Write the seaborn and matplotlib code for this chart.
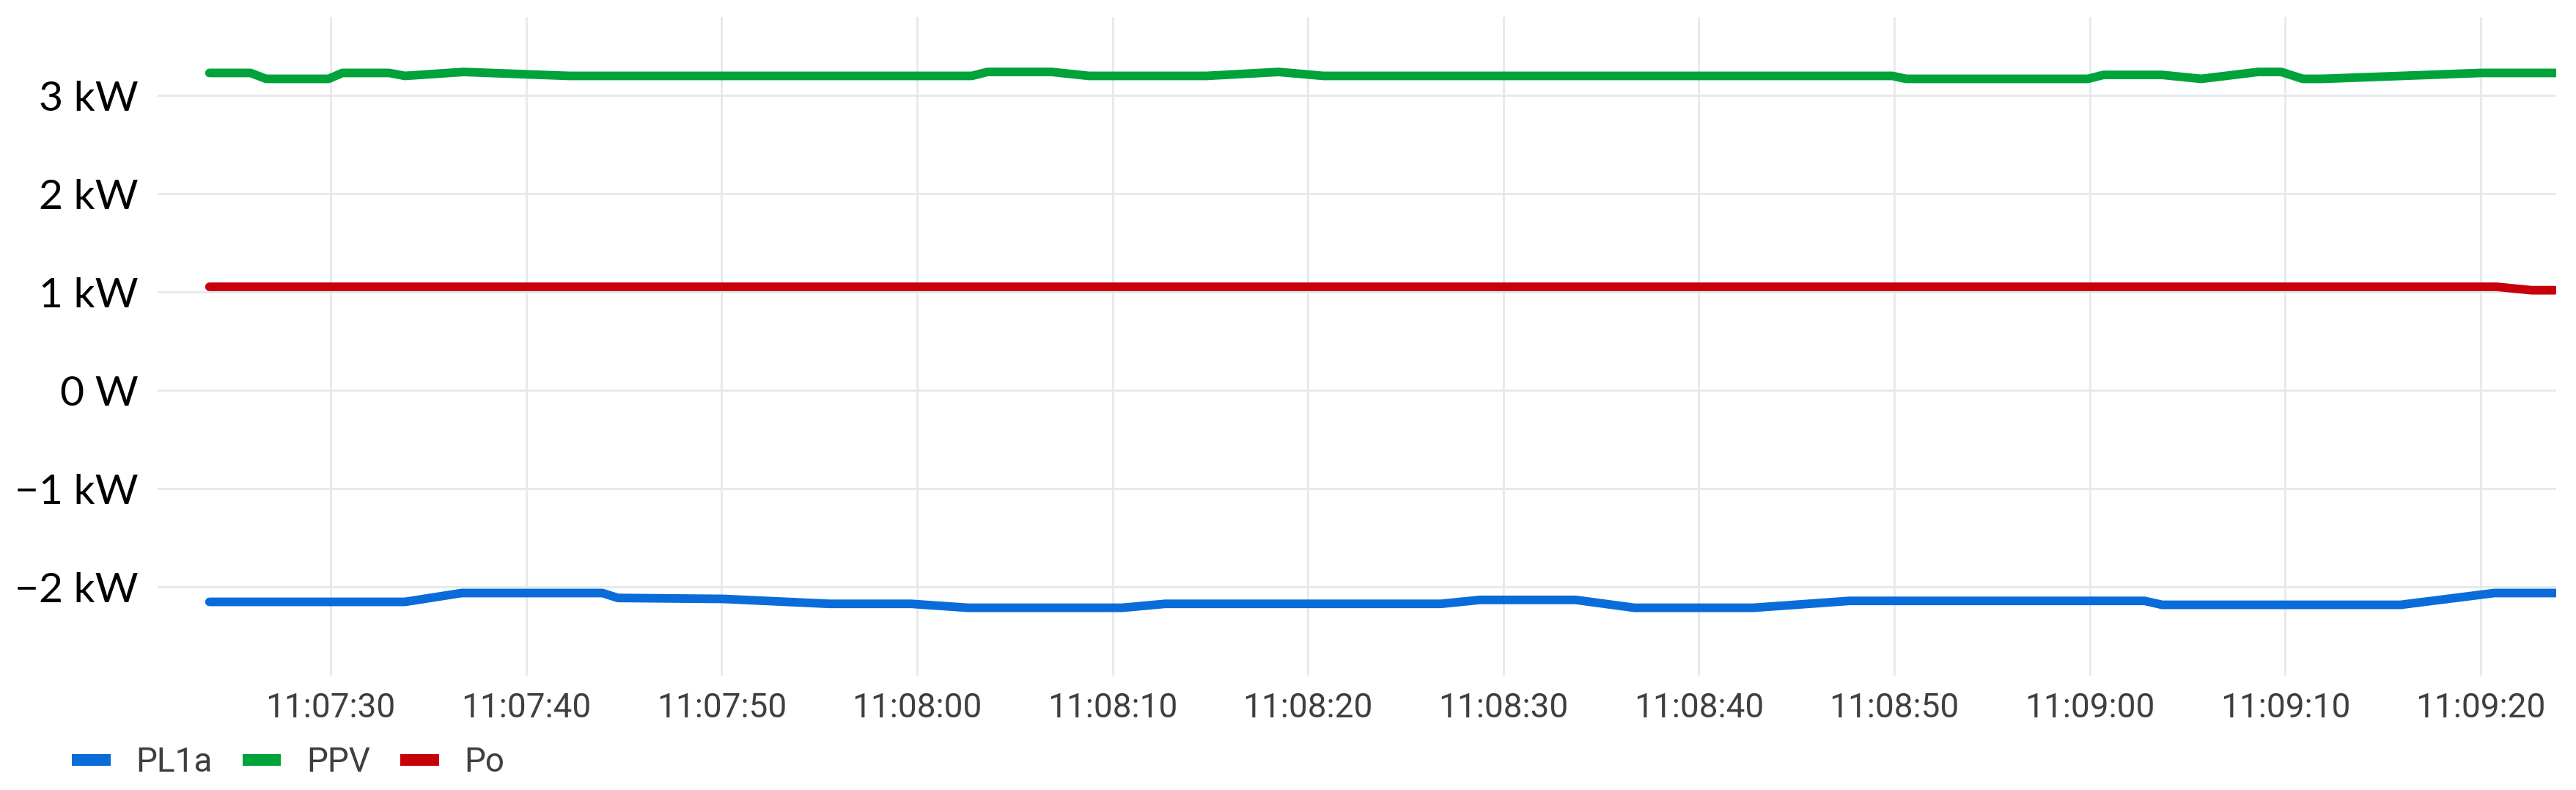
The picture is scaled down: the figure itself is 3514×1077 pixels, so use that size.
import matplotlib

matplotlib.use("Agg")
import matplotlib.dates as mdates
import matplotlib.pyplot as plt
import pandas as pd
import seaborn as sns
from matplotlib.ticker import FuncFormatter

# --- data (time of day, power in W) ----------------------------------------
pl1a_time = [
    "11:07:23.8", "11:07:33.8", "11:07:36.7", "11:07:43.9", "11:07:44.7",
    "11:07:50.1", "11:07:55.5", "11:07:59.7", "11:08:02.6", "11:08:10.5",
    "11:08:12.7", "11:08:26.8", "11:08:28.8", "11:08:33.7", "11:08:36.7",
    "11:08:42.8", "11:08:47.7", "11:09:02.8", "11:09:03.7", "11:09:15.9",
    "11:09:20.7", "11:09:23.8",
]
pl1a_w = [
    -2150, -2150, -2060, -2060, -2110,
    -2120, -2170, -2170, -2210, -2210,
    -2170, -2170, -2130, -2130, -2210,
    -2210, -2140, -2140, -2180, -2180,
    -2060, -2060,
]

ppv_time = [
    "11:07:23.8", "11:07:25.9", "11:07:26.7", "11:07:29.9", "11:07:30.6",
    "11:07:33.0", "11:07:33.8", "11:07:36.8", "11:07:42.2", "11:08:02.8",
    "11:08:03.6", "11:08:06.9", "11:08:08.8", "11:08:14.8", "11:08:18.5",
    "11:08:20.8", "11:08:49.9", "11:08:50.6", "11:08:59.9", "11:09:00.7",
    "11:09:03.7", "11:09:05.7", "11:09:08.6", "11:09:09.8", "11:09:10.9",
    "11:09:11.9", "11:09:20.0", "11:09:23.8",
]
ppv_w = [
    3230, 3230, 3170, 3170, 3230,
    3230, 3200, 3240, 3200, 3200,
    3240, 3240, 3200, 3200, 3240,
    3200, 3200, 3170, 3170, 3210,
    3210, 3170, 3240, 3240, 3170,
    3170, 3230, 3230,
]

po_time = ["11:07:23.8", "11:09:20.8", "11:09:22.6", "11:09:23.8"]
po_w = [1055, 1055, 1020, 1020]

SERIES = ["PL1a", "PPV", "Po"]
COLOURS = {"PL1a": "#0a6cd8", "PPV": "#00a23a", "Po": "#c8000a"}
BASE_DATE = "2000-01-01 "


def _frame(name, times, values):
    return pd.DataFrame(
        {
            "time": pd.to_datetime([BASE_DATE + t for t in times]),
            "power": values,
            "series": name,
        }
    )


df = pd.concat(
    [
        _frame("PL1a", pl1a_time, pl1a_w),
        _frame("PPV", ppv_time, ppv_w),
        _frame("Po", po_time, po_w),
    ],
    ignore_index=True,
)


def _fmt_power(val, _pos):
    """0 -> '0 W', otherwise kW with a real minus sign."""
    if abs(val) < 1e-6:
        return "0 W"
    kw = val / 1000
    txt = f"{abs(kw):g} kW"
    return ("\u2212" + txt) if kw < 0 else txt


sns.set_theme(style="white")
plt.rcParams["font.family"] = ["Roboto", "DejaVu Sans"]

fig = plt.figure(figsize=(35.14, 10.77), dpi=100)
ax = fig.add_axes([0.0612, 0.1448, 0.9311, 0.8338])

sns.lineplot(
    data=df,
    x="time",
    y="power",
    hue="series",
    hue_order=SERIES,
    palette=COLOURS,
    linewidth=8.5,
    ax=ax,
    legend=False,
)

ax.set_xlim(pd.Timestamp(BASE_DATE + "11:07:21.15"), pd.Timestamp(BASE_DATE + "11:09:23.86"))
ax.set_ylim(-2900, 3800)
ax.set_yticks([-2000, -1000, 0, 1000, 2000, 3000])
ax.yaxis.set_major_formatter(FuncFormatter(_fmt_power))
ax.xaxis.set_major_locator(mdates.SecondLocator(bysecond=range(0, 60, 10)))
ax.xaxis.set_major_formatter(mdates.DateFormatter("%H:%M:%S"))

ax.grid(True, color="#e6e8eb", linewidth=2)
ax.set_axisbelow(True)
for spine in ax.spines.values():
    spine.set_visible(False)

ax.set_xlabel("")
ax.set_ylabel("")
ax.tick_params(axis="both", length=0)
ax.tick_params(axis="x", pad=16, labelsize=33, labelcolor="#3c4043")
ax.tick_params(axis="y", pad=19, labelsize=41, labelcolor="#000000")
for lbl in ax.get_yticklabels():
    lbl.set_family(["Lato", "DejaVu Sans"])

handles = [plt.Line2D([], [], color=COLOURS[s], linewidth=11.5, solid_capstyle="butt") for s in SERIES]
fig.legend(
    handles,
    SERIES,
    loc="center left",
    bbox_to_anchor=(0.0279, 0.035),
    ncol=3,
    frameon=False,
    fontsize=33,
    labelcolor="#3c4043",
    handlelength=1.15,
    handletextpad=0.75,
    columnspacing=0.9,
    borderpad=0,
    borderaxespad=0,
)

fig.savefig("out.png", dpi=100, facecolor="white")
plt.close(fig)
